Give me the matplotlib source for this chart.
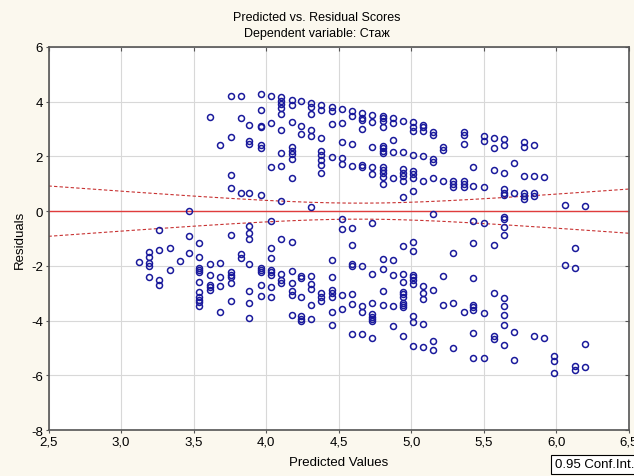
import matplotlib
matplotlib.use("Agg")
import matplotlib.pyplot as plt
import numpy as np

plt.rcParams["font.family"] = ["Liberation Sans", "DejaVu Sans"]

# predicted value of each column of points, and the residuals found in that column
predictedCols = [
    3.124, 3.195, 3.264, 3.338, 3.407, 3.471, 3.540, 3.614, 3.683, 3.757,
    3.828, 3.885, 3.963, 4.034, 4.103, 4.177, 4.239, 4.310, 4.381, 4.453,
    4.524, 4.595, 4.662, 4.731, 4.802, 4.871, 4.943, 5.012, 5.078, 5.148,
    5.219, 5.291, 5.361, 5.426, 5.499, 5.569, 5.638, 5.710, 5.779, 5.843,
    5.917, 5.986, 6.057, 6.129, 6.198,
]
residualCols = [
    [-1.85],
    [-1.51, -1.69, -1.91, -2.00, -2.40],
    [-0.69, -1.41, -2.51, -2.69],
    [-1.36, -2.16],
    [-1.82],
    [-0.01, -0.92, -1.52],
    [-1.18, -1.66, -2.06, -2.15, -2.22, -2.58, -2.95, -3.15, -3.24, -3.32, -3.48],
    [3.45, -1.94, -2.34, -2.70, -2.79, -2.88],
    [2.40, -1.90, -2.42, -2.73, -3.70],
    [4.20, 2.72, 1.32, 0.83, -0.88, -2.24, -2.34, -2.42, -2.64, -3.29],
    [4.20, 3.42, 0.65, -1.55, -1.72],
    [3.15, 2.55, 2.45, 0.68, -0.54, -0.80, -1.00, -1.94, -2.93, -3.34, -3.89],
    [4.29, 3.69, 3.12, 3.06, 2.40, 2.29, 0.60, -2.06, -2.15, -2.24, -2.69, -3.10],
    [4.21, 3.22, 1.62, -0.35, -1.36, -1.73, -2.16, -2.24, -2.34, -2.77, -3.15],
    [4.16, 4.03, 3.91, 3.76, 3.55, 2.97, 2.12, 1.66, 0.37, -1.02, -2.30, -2.52, -2.61],
    [4.08, 3.89, 3.26, 2.33, 2.20, 2.08, 1.90, 1.20, -1.11, -2.20, -2.63, -2.91, -3.07, -3.79],
    [4.03, 3.12, 2.81, -2.36, -2.46, -3.15, -3.85, -3.95, -4.01],
    [3.97, 3.79, 3.55, 2.96, 2.75, 0.14, -2.36, -2.67, -2.83, -3.44, -3.95],
    [3.89, 3.69, 2.67, 2.18, 2.06, 1.86, 1.69, 1.38, -3.01, -3.12, -3.30],
    [3.81, 3.67, 3.18, 1.98, -1.78, -2.39, -2.89, -3.00, -3.12, -3.67, -4.16],
    [3.73, 3.23, 2.51, 1.94, 1.72, -0.28, -0.66, -3.06, -3.56],
    [3.67, 3.46, 2.47, 1.66, -0.62, -1.23, -1.94, -2.02, -3.03, -3.40, -4.50],
    [3.58, 3.42, 3.33, 3.02, 1.68, 1.60, -2.00, -3.48, -3.67, -4.50],
    [3.52, 3.24, 2.33, 1.62, 1.35, -0.45, -2.28, -3.37, -3.76, -3.86, -3.95, -4.01, -4.65],
    [3.48, 3.39, 3.28, 3.06, 2.39, 2.29, 2.20, 2.11, 1.60, 1.50, 1.38, 1.23, 0.99,
     -1.75, -2.12, -2.91, -3.44],
    [3.39, 3.21, 2.60, 2.17, 1.20, -1.79, -2.33, -3.48, -4.20],
    [3.30, 2.15, 1.54, 1.41, 1.29, 1.11, 0.52, -1.27, -2.28, -2.58, -2.95, -3.03,
     -3.12, -3.36, -3.44, -3.52, -4.58],
    [3.24, 3.06, 2.93, 2.06, 1.47, 1.35, 1.20, 0.74, -1.14, -1.45, -2.33, -2.42,
     -2.51, -2.67, -3.83, -4.05, -4.92],
    [3.15, 3.06, 2.93, 2.00, 1.09, -2.73, -3.00, -3.22, -4.13, -4.98],
    [2.90, 2.79, 1.90, 1.78, 1.20, -0.09, -2.88, -4.76, -5.07],
    [2.33, 2.23, 1.11, -2.36, -3.44],
    [1.11, 0.99, 0.87, -1.52, -3.34, -5.02],
    [2.90, 2.79, 2.47, 1.11, 0.99, 0.87, -3.67],
    [1.62, 0.92, -0.35, -1.18, -2.46, -3.42, -3.52, -3.61, -4.46, -5.35],
    [2.75, 2.57, 0.87, -0.44, -3.74, -5.37],
    [2.69, 2.29, 1.50, -1.23, -3.00, -4.58, -4.68],
    [2.63, 2.41, 1.41, 0.80, 0.68, 0.60, -0.23, -0.29, -0.57, -0.88, -3.19, -3.48,
     -3.80, -4.16, -4.89],
    [1.75, 0.68, -4.43, -5.43],
    [2.51, 2.35, 1.29, 0.68, 0.56, 0.46],
    [2.41, 1.29, 0.68, 0.56, -4.58],
    [1.23, -4.65],
    [-5.31, -5.47, -5.90],
    [0.23, -1.97],
    [-1.36, -2.06, -5.65, -5.80],
    [0.17, -4.84, -5.71],
]

xTicks = [2.5, 3.0, 3.5, 4.0, 4.5, 5.0, 5.5, 6.0, 6.5]
yTicks = [-8, -6, -4, -2, 0, 2, 4, 6]
confLevel = 0.95
tValue = 1.967

predicted = np.concatenate([[p] * len(r) for p, r in zip(predictedCols, residualCols)])
residuals = np.concatenate(residualCols)

bgColor = "#fbf8ee"
pointColor = "#1a1a9c"
lineColor = "#e03c3c"

fig = plt.figure(figsize=(6.34, 4.77), dpi=100, facecolor=bgColor)
ax = fig.add_axes([0.0765, 0.0964, 0.9155, 0.803])
ax.set_facecolor("white")

# residuals are orthogonal to predicted values, so their regression line is y = 0;
# the band is the confidence interval for that mean line
n = len(predicted)
s = np.sqrt(np.sum(residuals ** 2) / (n - 2))
xBar = predicted.mean()
sxx = np.sum((predicted - xBar) ** 2)
xs = np.linspace(xTicks[0], xTicks[-1], 200)
ys = np.zeros_like(xs)
half = tValue * s * np.sqrt(1.0 / n + (xs - xBar) ** 2 / sxx)

ax.plot(xs, ys, color=lineColor, linewidth=1.0, zorder=2)
ax.plot(xs, ys + half, color="#c83232", linewidth=0.8, linestyle=(0, (3, 2)), zorder=2)
ax.plot(xs, ys - half, color="#c83232", linewidth=0.8, linestyle=(0, (3, 2)), zorder=2)

ax.plot(predicted, residuals, linestyle="none", marker="o", markersize=4.3,
        markerfacecolor="none", markeredgecolor=pointColor, markeredgewidth=1.1, zorder=3)

ax.set_xlim(xTicks[0], xTicks[-1])
ax.set_ylim(yTicks[0], yTicks[-1])
ax.set_xticks(xTicks)
ax.set_xticklabels([("%.1f" % v).replace(".", ",") for v in xTicks], fontsize=9.5)
ax.set_yticks(yTicks)
ax.set_yticklabels([str(v) for v in yTicks], fontsize=9.5)
ax.grid(True, color="#d8d8d8", linewidth=0.8, zorder=0)
ax.set_axisbelow(True)
ax.tick_params(axis="both", which="both", direction="out", length=2, width=0.8,
               color="#555555", pad=2)
ax.tick_params(axis="both", which="both", top=True, right=True, labeltop=False,
               labelright=False)
ax.xaxis.set_tick_params(which="both", top=True)
for tick in ax.xaxis.get_major_ticks():
    tick.tick2line.set_marker(matplotlib.markers.TICKDOWN)
    tick.tick2line.set_markersize(3)
for tick in ax.yaxis.get_major_ticks():
    tick.tick2line.set_marker(matplotlib.markers.TICKLEFT)
    tick.tick2line.set_markersize(3)
for side in ["top", "bottom", "left", "right"]:
    ax.spines[side].set_color("#555555")
    ax.spines[side].set_linewidth(1.2)

ax.set_xlabel("Predicted Values", fontsize=9.5, labelpad=6)
ax.set_ylabel("Residuals", fontsize=9.5, labelpad=4)
fig.text(0.5, 0.962, "Predicted vs. Residual Scores", ha="center", va="center", fontsize=9)
fig.text(0.5, 0.929, "Dependent variable: Стаж", ha="center", va="center", fontsize=9)

fig.text(0.875, 0.012, "%.2f Conf.Int." % confLevel, ha="left", va="bottom", fontsize=9.5,
         bbox=dict(boxstyle="square,pad=0.25", facecolor="white", edgecolor="black", linewidth=0.8))

fig.savefig("out.png", dpi=100, facecolor=bgColor)
